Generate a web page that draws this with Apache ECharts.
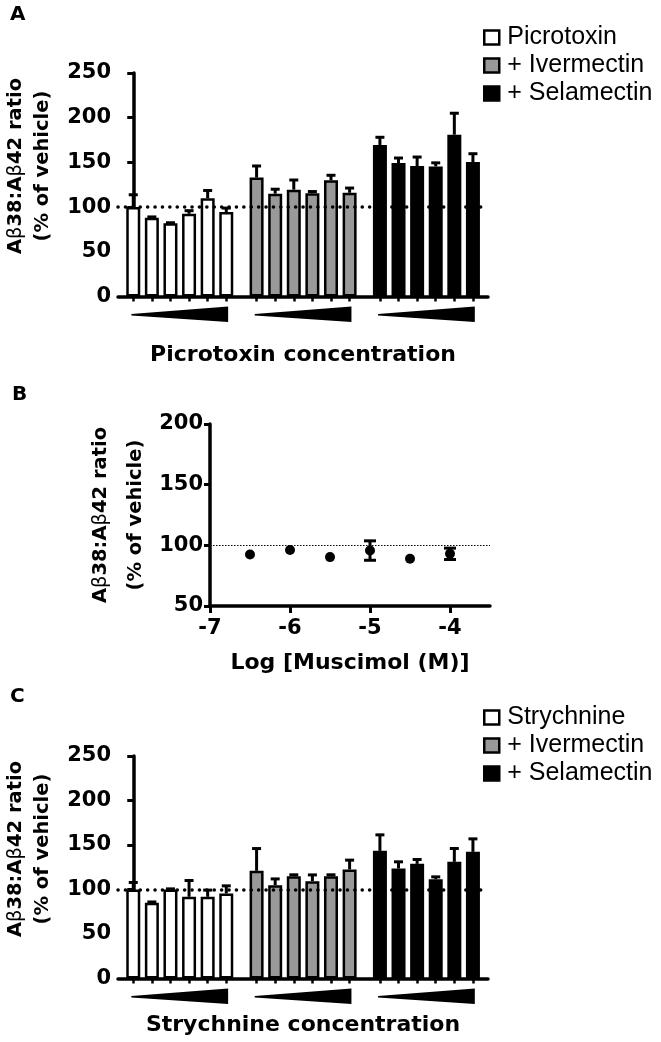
<!DOCTYPE html>
<html lang="en">
	<head>
		<meta charset="UTF-8">
		<title>Aβ38:Aβ42 ratio</title>
		<script src="https://cdn.jsdelivr.net/npm/echarts@6/dist/echarts.min.js"></script>
		<style>
			html, body { margin: 0; padding: 0; background: #fff; }
			#chart { width: 661px; height: 1042px; }
		</style>
	</head>
	<body>
		<div id="chart"></div>
		<script type="text/javascript">
			// panel A - picrotoxin, 6 doses per group
			var picroNames = ['Picrotoxin', '+ Ivermectin', '+ Selamectin'];
			var picroMean = [100, 88, 82, 92.5, 110, 94.4];
			var picroErr = [13.8, 1, 0.5, 3.5, 8.6, 4.5];
			var picroIverMean = [133, 115, 119.5, 115.5, 130, 116];
			var picroIverErr = [13, 5, 10.8, 1.9, 5.6, 5.3];
			var picroSelaMean = [169.5, 149.3, 146, 145.5, 181, 150.4];
			var picroSelaErr = [8.6, 5.6, 10, 4, 24, 9.3];

			// panel B - muscimol
			var muscLogConc = [-6.5, -6, -5.5, -5, -4.5, -4];
			var muscMean = [92.4, 96.2, 90.3, 95.7, 88.9, 93];
			var muscErr = [0, 0, 0, 8, 0, 4.7];
			var muscTicks = [-7, -6, -5, -4];

			// panel C - strychnine
			var strychNames = ['Strychnine', '+ Ivermectin', '+ Selamectin'];
			var strychMean = [100, 85, 100, 91.8, 91.8, 95.5];
			var strychErr = [7.9, 1, 0.7, 18.3, 7.5, 8.6];
			var strychIverMean = [121, 104.9, 115, 109.4, 115, 122.5];
			var strychIverErr = [25, 7, 1.5, 7, 1.5, 10.5];
			var strychSelaMean = [143.4, 123.6, 128.8, 111.6, 131.1, 142.3];
			var strychSelaErr = [18, 7.5, 4.9, 2.6, 15, 14.6];

			var fills = ['#ffffff', '#999999', '#000000'];
			var GROUP_STEP = 6.63;
			var boldFont = {fontFamily: 'DejaVu Sans', fontWeight: 'bold', color: '#000'};

			function barX(g, i) { return g * GROUP_STEP + i; }

			var allBarX = [];
			for (var g = 0; g < 3; g++) for (var i = 0; i < 6; i++) allBarX.push(barX(g, i));

			function barSeries(name, means, g, idx) {
				return {
					type: 'bar', name: name, xAxisIndex: idx, yAxisIndex: idx,
					barWidth: 14, barGap: '-100%', z: 2,
					itemStyle: {color: fills[g], borderColor: '#000', borderWidth: 2.5},
					data: means.map(function (v, i) { return [barX(g, i), v]; })
				};
			}

			function errUp(params, api) {
				var top = api.coord([api.value(0), api.value(1) + api.value(2)]);
				var base = api.coord([api.value(0), api.value(1)]);
				var st = {stroke: '#000', lineWidth: 3};
				return {type: 'group', children: [
					{type: 'line', shape: {x1: base[0], y1: base[1], x2: top[0], y2: top[1]}, style: st},
					{type: 'line', shape: {x1: top[0] - 4.5, y1: top[1], x2: top[0] + 4.5, y2: top[1]}, style: st}
				]};
			}

			function errBoth(params, api) {
				var e = api.value(2);
				if (!e) return null;
				var top = api.coord([api.value(0), api.value(1) + e]);
				var bot = api.coord([api.value(0), api.value(1) - e]);
				var st = {stroke: '#000', lineWidth: 3};
				return {type: 'group', children: [
					{type: 'line', shape: {x1: top[0], y1: top[1], x2: bot[0], y2: bot[1]}, style: st},
					{type: 'line', shape: {x1: top[0] - 6, y1: top[1], x2: top[0] + 6, y2: top[1]}, style: st},
					{type: 'line', shape: {x1: bot[0] - 6, y1: bot[1], x2: bot[0] + 6, y2: bot[1]}, style: st}
				]};
			}

			// concentration wedge under each group
			function wedge(params, api) {
				var p0 = api.coord([api.value(0), 0]);
				var p1 = api.coord([api.value(1), 0]);
				return {type: 'polygon', shape: {points: [
					[p0[0], p0[1] + 17.5], [p1[0], p1[1] + 10], [p1[0], p1[1] + 25.5], [p0[0], p0[1] + 19]
				]}, style: {fill: '#000'}};
			}

			function errData(groups) {
				var out = [];
				groups.forEach(function (gr, g) {
					gr[0].forEach(function (v, i) { out.push([barX(g, i), v, gr[1][i]]); });
				});
				return out;
			}

			var wedgeData = [0, 1, 2].map(function (g) { return [barX(g, 0) - 0.1, barX(g, 5) + 0.1]; });

			function panelSeries(names, groups, idx) {
				var list = groups.map(function (gr, g) { return barSeries(names[g], gr[0], g, idx); });
				list.push({
					type: 'custom', xAxisIndex: idx, yAxisIndex: idx, z: 3, silent: true,
					renderItem: errUp, data: errData(groups),
					markLine: {
						silent: true, symbol: 'none', label: {show: false},
						lineStyle: {color: '#000', width: 3.5, type: [0.1, 7.3], cap: 'round'},
						data: [{yAxis: 100}]
					}
				});
				list.push({
					type: 'custom', xAxisIndex: idx, yAxisIndex: idx, silent: true, clip: false,
					renderItem: wedge, data: wedgeData
				});
				return list;
			}

			function barXAxis(idx, name, gap) {
				return {
					type: 'value', gridIndex: idx, min: -0.82, max: 19.07,
					name: name, nameLocation: 'middle', nameGap: gap,
					nameTextStyle: Object.assign({fontSize: 22}, boldFont),
					axisLine: {lineStyle: {color: '#000', width: 3.5}},
					axisTick: {show: true, customValues: allBarX, length: 5, lineStyle: {color: '#000', width: 2.5}},
					axisLabel: {show: false},
					splitLine: {show: false}
				};
			}

			function yAxisOf(idx, min, max) {
				return {
					type: 'value', gridIndex: idx, min: min, max: max, interval: 50,
					axisLine: {show: true, lineStyle: {color: '#000', width: 3.5}},
					axisTick: {show: true, length: 6, lineStyle: {color: '#000', width: 3}},
					axisLabel: Object.assign({fontSize: 21, margin: 7}, boldFont),
					splitLine: {show: false}
				};
			}

			function yName(x1, x2, y) {
				var rich = {
					b: {fontFamily: 'DejaVu Sans', fontWeight: 'bold', fontSize: 19.5, fill: '#000'},
					n: {fontFamily: 'DejaVu Sans', fontWeight: 'normal', fontSize: 19.5, fill: '#000'}
				};
				return [
					{type: 'text', x: x1, y: y, rotation: Math.PI / 2,
						style: {text: '{b|A}{n|β}{b|38:A}{n|β}{b|42 ratio}', rich: rich, align: 'center', verticalAlign: 'middle'}},
					{type: 'text', x: x2, y: y, rotation: Math.PI / 2,
						style: {text: '(% of vehicle)', font: 'bold 19.5px "DejaVu Sans"', fill: '#000', align: 'center', verticalAlign: 'middle'}}
				];
			}

			function letter(t, x, y) {
				return {type: 'text', x: x, y: y, style: {text: t, font: 'bold 20px "DejaVu Sans"', fill: '#000', align: 'left', verticalAlign: 'middle'}};
			}

			function legendOf(names, top) {
				return {
					data: names.map(function (n, g) { return {name: n, itemStyle: {color: fills[g], borderColor: '#000', borderWidth: 2.5}}; }),
					orient: 'vertical', left: 478, top: top, icon: 'rect',
					itemWidth: 15, itemHeight: 14, itemGap: 3, selectedMode: false,
					textStyle: {fontFamily: 'Liberation Sans', fontSize: 25, color: '#000', padding: [0, 0, 0, 3]}
				};
			}

			var muscSeries = [
				{
					type: 'scatter', xAxisIndex: 1, yAxisIndex: 1, symbol: 'circle', symbolSize: 10, z: 4,
					itemStyle: {color: '#000', opacity: 1},
					data: muscLogConc.map(function (x, i) { return [x, muscMean[i]]; }),
					markLine: {
						silent: true, symbol: 'none', label: {show: false},
						lineStyle: {color: '#000', width: 1.2, type: [1.5, 1.5]},
						data: [{yAxis: 100}]
					}
				},
				{
					type: 'custom', xAxisIndex: 1, yAxisIndex: 1, z: 3, silent: true,
					renderItem: errBoth,
					data: muscLogConc.map(function (x, i) { return [x, muscMean[i], muscErr[i]]; })
				}
			];

			var dom = document.getElementById('chart');
			var myChart = echarts.init(dom, null, {renderer: 'canvas'});
			var option = {
				animation: false,
				backgroundColor: '#fff',
				grid: [
					{left: 118, top: 73, width: 370, height: 223.5},
					{left: 210, top: 424, width: 280, height: 182},
					{left: 118, top: 756, width: 370, height: 222.5}
				],
				legend: [legendOf(picroNames, 20), legendOf(strychNames, 700)],
				xAxis: [
					barXAxis(0, 'Picrotoxin concentration', 48),
					{
						type: 'value', gridIndex: 1, min: -7, max: -3.5, interval: 1,
						name: 'Log [Muscimol (M)]', nameLocation: 'middle', nameGap: 46,
						nameTextStyle: Object.assign({fontSize: 22}, boldFont),
						axisLine: {lineStyle: {color: '#000', width: 3.5}},
						axisTick: {show: true, customValues: muscTicks, length: 7, lineStyle: {color: '#000', width: 3}},
						axisLabel: Object.assign({fontSize: 21, margin: 12, customValues: muscTicks}, boldFont),
						splitLine: {show: false}
					},
					barXAxis(2, 'Strychnine concentration', 36)
				],
				yAxis: [yAxisOf(0, 0, 250), yAxisOf(1, 50, 200), yAxisOf(2, 0, 250)],
				graphic: [letter('A', 10, 15), letter('B', 12, 395), letter('C', 10, 697)]
					.concat(yName(16, 43, 166), yName(101, 136, 515), yName(16, 43, 849)),
				series: panelSeries(picroNames, [[picroMean, picroErr], [picroIverMean, picroIverErr], [picroSelaMean, picroSelaErr]], 0)
					.concat(muscSeries)
					.concat(panelSeries(strychNames, [[strychMean, strychErr], [strychIverMean, strychIverErr], [strychSelaMean, strychSelaErr]], 2))
			};
			myChart.setOption(option, true);
		</script>
	</body>
</html>
